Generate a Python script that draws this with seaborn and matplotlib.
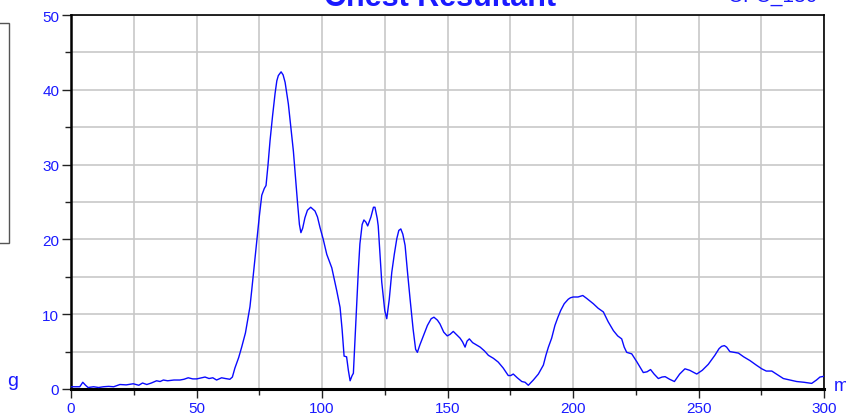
import numpy as np
import pandas as pd
import seaborn as sns
import matplotlib
matplotlib.use("Agg")
import matplotlib.pyplot as plt
from matplotlib.patches import Rectangle
from matplotlib.ticker import MultipleLocator

# time (ms) and chest resultant acceleration (g)
time_ms = [0, 3.5, 4.7, 5.8, 6.8, 9, 11, 12.9, 15, 17, 19.5, 22, 24.8, 27, 28.5, 30.2, 32, 34.1,
           35.5, 36.8, 38.5, 41, 43.4, 45, 46.7, 48.5, 50.1, 52, 53.4, 55, 56.5, 58, 60, 61.5,
           63.3, 64.3, 65.3, 66.8, 68, 69.5, 70.6, 71.3, 72, 73, 74, 75, 76, 77, 77.7, 78.5,
           79.3, 80.3, 81.3, 82.0, 82.6, 83.7, 84.5, 85.3, 86.6, 87.6, 88.6, 89.5, 90.2, 91,
           91.6, 92.3, 93.2, 94.2, 95.5, 97.2, 98.2, 99.2, 100.5, 101.9, 103, 103.9, 105,
           105.9, 107.2, 108, 108.8, 109.8, 110.5, 111.2, 112, 112.5, 113.5, 114.5, 115.1,
           116, 116.7, 117.5, 118.2, 119.5, 120.5, 121.1, 122, 122.4, 123.2, 123.8, 125,
           125.8, 126.8, 127.8, 128.8, 129.8, 130.6, 131.4, 132.2, 133.1, 134.1, 135.1,
           136.3, 137.3, 138, 139, 140.4, 142, 143.5, 144.6, 146, 147, 148.5, 149.9, 151,
           152.3, 153.5, 155, 156, 157, 157.8, 158.7, 160, 161.5, 163, 164.7, 166.3, 168.3,
           170.2, 172.2, 174.2, 175.2, 176.2, 177.8, 179.6, 180.9, 182.2, 184.2, 186.2,
           188.2, 189.2, 190.2, 191.5, 192.8, 194, 195.1, 196.5, 198.1, 199, 200.1, 202,
           203.9, 205.5, 208.1, 210, 212.1, 214, 216.1, 217.8, 219.4, 220.4, 221.4, 223.4,
           225.5, 228, 229.5, 230.9, 232.3, 234, 235.5, 236.7, 238.5, 240.4, 242.5, 244.6,
           246.5, 249.3, 251.5, 253.9, 256.5, 258.2, 259.2, 260.3, 261.2, 262.5, 264.2,
           265.9, 268, 270.5, 273, 275.2, 277, 279.2, 281.5, 283.8, 286.5, 289.1, 292,
           295.1, 297, 298.4, 300]
accel_g = [0.3, 0.3, 0.9, 0.5, 0.2, 0.3, 0.2, 0.3, 0.35, 0.3, 0.6, 0.55, 0.7, 0.5, 0.8, 0.6, 0.8, 1.1,
           1.0, 1.2, 1.1, 1.2, 1.2, 1.3, 1.5, 1.35, 1.35, 1.5, 1.6, 1.4, 1.5, 1.2, 1.5, 1.4,
           1.3, 1.6, 2.8, 4.2, 5.6, 7.5, 9.6, 11, 13.2, 16.5, 19.9, 23, 25.9, 26.8, 27.2, 30,
           33.2, 36.5, 39.5, 41.2, 41.9, 42.4, 42, 41, 38.1, 35, 31.8, 28, 25.1, 22,
           20.9, 21.5, 22.9, 23.9, 24.3, 23.8, 23, 21.6, 20, 18.0, 17, 16.2, 14.5,
           13.1, 10.9, 8, 4.4, 4.3, 2.5, 1.1, 1.8, 2.1, 9, 16, 19.4,
           22, 22.6, 22.3, 21.8, 23, 24.3, 24.3, 22.8, 21.8, 17.5, 14.3, 10.5,
           9.4, 12, 15.6, 18, 20.1, 21.2, 21.4, 20.7, 19.2, 15.5, 12.0,
           8, 5.3, 4.9, 5.9, 7.1, 8.5, 9.4, 9.6, 9.2, 8.7, 7.6, 7.1, 7.3,
           7.7, 7.3, 6.8, 6.3, 5.6, 6.4, 6.7, 6.2, 5.9, 5.6, 5.1, 4.5, 4.1,
           3.6, 2.8, 1.8, 1.8, 2.0, 1.5, 1.0, 0.9, 0.5, 1.2, 2.0,
           3.2, 4.5, 5.6, 6.8, 8.5, 9.6, 10.5, 11.4, 12.0, 12.2, 12.3, 12.3,
           12.5, 12.1, 11.4, 10.8, 10.3, 9.0, 7.8, 7.1, 6.7, 5.6, 4.9, 4.7,
           3.6, 2.2, 2.3, 2.6, 2.0, 1.4, 1.6, 1.65, 1.3, 1.0, 2.0, 2.7,
           2.5, 2.0, 2.5, 3.3, 4.5, 5.4, 5.7, 5.8, 5.6, 5.0, 4.9,
           4.8, 4.3, 3.8, 3.2, 2.7, 2.4, 2.4, 1.9, 1.4, 1.2, 1.0, 0.9,
           0.75, 1.2, 1.6, 1.7]

x_ticks = [0, 50, 100, 150, 200, 250, 300]
y_ticks = [0, 10, 20, 30, 40, 50]

df = pd.DataFrame({"time": time_ms, "accel": accel_g})

sns.set_style("white")
plt.rcParams["font.family"] = ["Liberation Sans", "DejaVu Sans"]
blue = "#1a1aff"

fig = plt.figure(figsize=(8.46, 4.14), dpi=100)
ax = fig.add_axes([71 / 846, 24 / 414, 753 / 846, 374 / 414])

sns.lineplot(data=df, x="time", y="accel", color="#0a0aff", lw=1.0, ax=ax, zorder=3)

ax.set_xlim(0, 300)
ax.set_ylim(0, 50)
ax.set_xticks(x_ticks)
ax.set_yticks(y_ticks)
ax.xaxis.set_minor_locator(MultipleLocator(25))
ax.yaxis.set_minor_locator(MultipleLocator(5))
ax.grid(True, which="both", color="#c8c8c8", lw=1.2)
ax.set_axisbelow(True)
ax.tick_params(which="major", direction="out", length=6.5, width=1, color="#222222",
               labelsize=11, labelcolor=blue, pad=2, left=True, bottom=True)
ax.tick_params(which="minor", direction="out", length=4, width=1, color="#222222",
               left=True, bottom=True)
ax.set_xlabel("")
ax.set_ylabel("")

for side in ["top", "right"]:
    ax.spines[side].set_visible(True)
    ax.spines[side].set_color("black")
    ax.spines[side].set_linewidth(1.2)
ax.spines["left"].set_color("black")
ax.spines["left"].set_linewidth(1.8)
ax.spines["bottom"].set_color("black")
ax.spines["bottom"].set_linewidth(2.2)

# cut-off title and header texts
fig.text(440 / 846, 1 - 6 / 414, "Chest Resultant", color=blue, fontsize=22,
         fontweight="bold", ha="center", va="baseline")
fig.text(817 / 846, 1 - 1.7 / 414, "CFC_180", color=blue, fontsize=15,
         ha="right", va="baseline")

# units
fig.text(13 / 846, 1 - 386.5 / 414, "g", color=blue, fontsize=14, ha="center", va="baseline")
fig.text(834 / 846, 1 - 391 / 414, "ms", color=blue, fontsize=13, ha="left", va="baseline")

# legend box partly off the figure
fig.patches.append(Rectangle((-20 / 846, 1 - 244 / 414), 28.5 / 846, 220 / 414,
                             transform=fig.transFigure, fill=False,
                             edgecolor="#555555", lw=1))

fig.savefig("out.png", dpi=100)
